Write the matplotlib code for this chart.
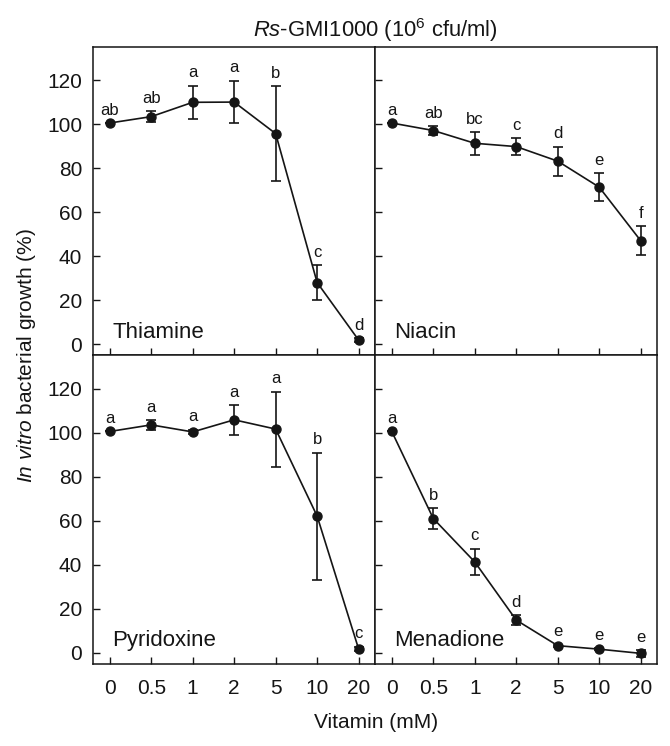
import matplotlib
matplotlib.use("Agg")
import matplotlib.pyplot as plt

plt.rcParams['font.family'] = ['Liberation Sans', 'DejaVu Sans']
plt.rcParams['mathtext.fontset'] = 'custom'
plt.rcParams['mathtext.rm'] = 'Liberation Sans'
plt.rcParams['mathtext.it'] = 'Liberation Sans:italic'

doses = ["0", "0.5", "1", "2", "5", "10", "20"]

thiamine_mean = [100.5, 103.4, 109.9, 110.0, 95.7, 28.1, 2.0]
thiamine_err = [0.0, 2.4, 7.6, 9.7, 21.5, 8.0, 1.0]
thiamine_letters = ["ab", "ab", "a", "a", "b", "c", "d"]

niacin_mean = [100.5, 97.1, 91.3, 89.8, 83.2, 71.4, 47.1]
niacin_err = [0.0, 2.1, 5.1, 3.8, 6.6, 6.3, 6.6]
niacin_letters = ["a", "ab", "bc", "c", "d", "e", "f"]

pyridoxine_mean = [100.5, 103.5, 100.3, 105.8, 101.6, 62.1, 1.8]
pyridoxine_err = [0.0, 2.1, 1.0, 6.7, 17.0, 28.8, 1.0]
pyridoxine_letters = ["a", "a", "a", "a", "a", "b", "c"]

menadione_mean = [100.5, 61.0, 41.3, 14.9, 3.3, 1.7, -0.2]
menadione_err = [0.0, 4.6, 6.0, 2.1, 0.5, 0.5, 1.5]
menadione_letters = ["a", "b", "c", "d", "e", "e", "e"]

panels = [
    ("Thiamine", thiamine_mean, thiamine_err, thiamine_letters),
    ("Niacin", niacin_mean, niacin_err, niacin_letters),
    ("Pyridoxine", pyridoxine_mean, pyridoxine_err, pyridoxine_letters),
    ("Menadione", menadione_mean, menadione_err, menadione_letters),
]

fig, axes = plt.subplots(2, 2, figsize=(6.70, 7.46), dpi=100, sharex=True, sharey=True)
fig.subplots_adjust(left=0.139, right=0.981, top=0.937, bottom=0.110, wspace=0, hspace=0)

ink = '#151515'
xs = list(range(len(doses)))
for ax, (name, mean, err, letters) in zip(axes.flat, panels):
    ax.errorbar(xs, mean, yerr=err, fmt='o-', color=ink, ecolor=ink,
                markersize=6.5, linewidth=1.2, elinewidth=1.2, capsize=3.4, capthick=1.2)
    for x, m, e, l in zip(xs, mean, err, letters):
        ax.annotate(l, (x, m + e), xytext=(0, 6), textcoords='offset points',
                    ha='center', va='baseline', fontsize=12, color=ink)
    ax.text(0.068, 0.058, name, transform=ax.transAxes, fontsize=16,
            ha='left', va='baseline', color=ink)
    ax.set_xlim(-0.4, 6.4)
    ax.set_ylim(-5, 135)
    ax.set_yticks([0, 20, 40, 60, 80, 100, 120])
    ax.set_xticks(xs)
    ax.set_xticklabels(doses)
    ax.tick_params(direction='in', length=5, width=1.0, labelsize=15, colors=ink)
    ax.tick_params(axis='y', pad=8)
    ax.tick_params(axis='x', pad=11)
    for s in ax.spines.values():
        s.set_linewidth(1.1)
        s.set_color(ink)

fig.text(0.56, 0.960, r"$\it{Rs}$-GMI1000 (10$^6$ cfu/ml)", ha='center', va='center',
         fontsize=15.8, color=ink)
fig.text(0.561, 0.032, "Vitamin (mM)", ha='center', va='center', fontsize=15, color=ink)
fig.text(0.040, 0.523, r"$\it{In\ vitro}$ bacterial growth (%)", ha='center', va='center',
         rotation=90, fontsize=15, color=ink)

fig.savefig("out.png", dpi=100)
